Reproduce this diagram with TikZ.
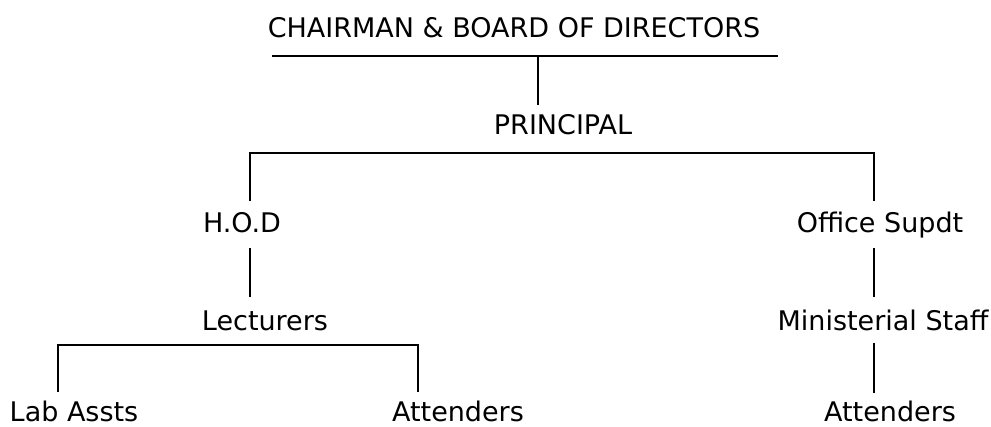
\documentclass[tikz,border=0pt]{standalone}
\usepackage{fontspec}
\setmainfont{DejaVu Sans}
\usetikzlibrary{calc, positioning}

\begin{document}
\begin{tikzpicture}[x=1pt, y=-1pt]

	\tikzstyle{puesto}=[inner sep=0pt, anchor=base, font=\fontsize{27}{31}\selectfont]
	\tikzstyle{linea}=[line width=1.8pt, black]

	\useasboundingbox (0, 0) rectangle (991, 426);

	\coordinate (p_0) at (514, 37); % NIVEL 0
	\coordinate (p_1) at (563, 134); % NIVEL 1
	\coordinate (p_2_1) at (242, 232); % NIVEL 2
	\coordinate (p_2_2) at (880, 232); % NIVEL 2
	\coordinate (p_3_1) at (265, 330); % NIVEL 3
	\coordinate (p_3_2) at (883, 330); % NIVEL 3
	\coordinate (p_4_1) at (74, 421); % NIVEL 4
	\coordinate (p_4_2) at (458, 421); % NIVEL 4
	\coordinate (p_4_3) at (890, 421); % NIVEL 4

	\node[puesto] (p_0) at (p_0) {CHAIRMAN \& BOARD OF DIRECTORS};
	\node[puesto] (p_1) at (p_1) {PRINCIPAL};
	\node[puesto] (p_2_1) at (p_2_1) {H.O.D};
	\node[puesto] (p_2_2) at (p_2_2) {Office Supdt};
	\node[puesto] (p_3_1) at (p_3_1) {Lecturers};
	\node[puesto] (p_3_2) at (p_3_2) {Ministerial Staff};
	\node[puesto] (p_4_1) at (p_4_1) {Lab Assts};
	\node[puesto] (p_4_2) at (p_4_2) {Attenders};
	\node[puesto] (p_4_3) at (p_4_3) {Attenders};

	\coordinate (b_l) at (272, 56);
	\coordinate (b_r) at (778, 56);
	\coordinate (b_m) at (538, 56);
	\coordinate (b_1) at (538, 105);

	\coordinate (h_1_l) at (250, 153);
	\coordinate (h_1_r) at (874, 153);
	\coordinate (t_2_1) at (250, 201);
	\coordinate (t_2_2) at (874, 201);

	\coordinate (d_2_1) at (250, 248);
	\coordinate (d_2_2) at (874, 248);
	\coordinate (t_3_1) at (250, 297);
	\coordinate (t_3_2) at (874, 297);

	\coordinate (h_3_l) at (58, 345);
	\coordinate (h_3_r) at (418, 345);
	\coordinate (t_4_1) at (58, 392);
	\coordinate (t_4_2) at (418, 392);
	\coordinate (d_3_2) at (874, 343);
	\coordinate (t_4_3) at (874, 393);

	\draw[linea] (b_l) -- (b_r);
	\draw[linea] (b_m) -- (b_1);

	\draw[linea] (t_2_1) -- (h_1_l) -- (h_1_r) -- (t_2_2);
	\draw[linea] (d_2_1) -- (t_3_1);
	\draw[linea] (d_2_2) -- (t_3_2);

	\draw[linea] (t_4_1) -- (h_3_l) -- (h_3_r) -- (t_4_2);
	\draw[linea] (d_3_2) -- (t_4_3);

\end{tikzpicture}
\end{document}
